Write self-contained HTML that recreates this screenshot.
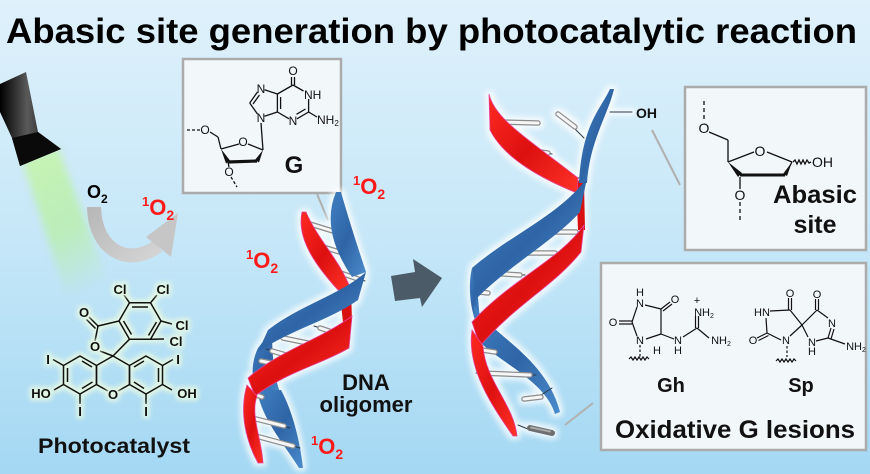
<!DOCTYPE html>
<html><head><meta charset="utf-8"><style>
html,body{margin:0;padding:0;background:#c4e6f8;}
svg{display:block;font-family:"Liberation Sans",Arial,sans-serif;}
</style></head><body>
<svg width="870" height="474" viewBox="0 0 870 474" xmlns="http://www.w3.org/2000/svg">
<defs>
<linearGradient id="bg" x1="0" y1="0" x2="0" y2="1">
<stop offset="0" stop-color="#dff1fb"/><stop offset="0.5" stop-color="#c6e7f8"/><stop offset="1" stop-color="#a4d8f3"/></linearGradient>
<linearGradient id="blueG" x1="0" y1="0" x2="1" y2="1">
<stop offset="0" stop-color="#3f7fc2"/><stop offset="0.5" stop-color="#2f65a6"/><stop offset="1" stop-color="#4b8bcc"/></linearGradient>
<linearGradient id="redG" x1="0" y1="0" x2="1" y2="1">
<stop offset="0" stop-color="#ff2a22"/><stop offset="0.5" stop-color="#dd1010"/><stop offset="1" stop-color="#ff3328"/></linearGradient>
<linearGradient id="flash" x1="0" y1="0" x2="1" y2="0">
<stop offset="0" stop-color="#000"/><stop offset="0.45" stop-color="#5a5a5a"/><stop offset="1" stop-color="#000"/></linearGradient>
<linearGradient id="beam" x1="0" y1="0" x2="0.3" y2="1">
<stop offset="0" stop-color="#c8f5b0" stop-opacity="0.95"/><stop offset="0.6" stop-color="#b6efa0" stop-opacity="0.7"/><stop offset="1" stop-color="#b6efa0" stop-opacity="0"/></linearGradient>
<linearGradient id="arcG" x1="0" y1="0" x2="1" y2="1">
<stop offset="0" stop-color="#b8b8b8"/><stop offset="0.6" stop-color="#c8c8c8"/><stop offset="1" stop-color="#d4d4d4"/></linearGradient>
<filter id="blur4" x="-50%" y="-50%" width="200%" height="200%" color-interpolation-filters="sRGB"><feGaussianBlur stdDeviation="4"/></filter>
<filter id="glow" x="-20%" y="-20%" width="140%" height="140%" color-interpolation-filters="sRGB">
<feMorphology in="SourceAlpha" operator="dilate" radius="3" result="d"/>
<feGaussianBlur in="d" stdDeviation="3" result="b"/>
<feFlood flood-color="#ffffff" flood-opacity="0.8"/>
<feComposite in2="b" operator="in" result="g"/>
<feMerge><feMergeNode in="g"/><feMergeNode in="SourceGraphic"/></feMerge>
</filter>
<filter id="mglow" x="-20%" y="-20%" width="140%" height="140%" color-interpolation-filters="sRGB">
<feMorphology in="SourceAlpha" operator="dilate" radius="2.5" result="d"/>
<feGaussianBlur in="d" stdDeviation="2.5" result="b"/>
<feFlood flood-color="#eafbe2" flood-opacity="0.85"/>
<feComposite in2="b" operator="in" result="g"/>
<feMerge><feMergeNode in="g"/><feMergeNode in="SourceGraphic"/></feMerge>
</filter>
</defs>

<rect width="870" height="474" fill="url(#bg)"/>

<text x="6" y="43" font-size="35" font-weight="bold" fill="#000" textLength="851" lengthAdjust="spacingAndGlyphs">Abasic site generation by photocatalytic reaction</text>

<polygon points="22,160 58,148 114,298 72,312" fill="url(#beam)" filter="url(#blur4)"/>
<polygon points="0,84 26,72 38,132 61,149 20,166 12,138 0,112" fill="url(#flash)"/>
<polygon points="12,138 38,132 61,149 20,166" fill="#0a0a0a"/>

<path d="M94,207 C 95,250 128,268 158,246" fill="none" stroke="url(#arcG)" stroke-width="14"/>
<polygon points="178,213 146,237 171,257" fill="#c6c6c6"/>

<text x="87" y="198" font-size="18" font-weight="bold" fill="#000">O<tspan font-size="12" dy="5">2</tspan></text>
<text x="142" y="215" font-size="22" font-weight="bold" fill="#ff1a1a"><tspan font-size="13" dy="-9">1</tspan><tspan dy="9">O</tspan><tspan font-size="14" dy="5">2</tspan></text>
<text x="353" y="194" font-size="22" font-weight="bold" fill="#ff1a1a"><tspan font-size="13" dy="-9">1</tspan><tspan dy="9">O</tspan><tspan font-size="14" dy="5">2</tspan></text>
<text x="246" y="268" font-size="22" font-weight="bold" fill="#ff1a1a"><tspan font-size="13" dy="-9">1</tspan><tspan dy="9">O</tspan><tspan font-size="14" dy="5">2</tspan></text>
<text x="311" y="454" font-size="22" font-weight="bold" fill="#ff1a1a"><tspan font-size="13" dy="-9">1</tspan><tspan dy="9">O</tspan><tspan font-size="14" dy="5">2</tspan></text>

<g filter="url(#mglow)" stroke="#111" stroke-width="1.5" fill="none">
<polyline points="113,356 96.5,365.5 96.5,384.5 108,391"/>
<polyline points="118,391 129.5,384.5 129.5,365.5 113,356"/>
<polygon points="80,356 96.5,365.5 96.5,384.5 80,394 63.5,384.5 63.5,365.5"/>
<line x1="82" y1="361" x2="92" y2="367"/><line x1="92.5" y1="382" x2="82" y2="388.5"/><line x1="67.5" y1="368" x2="67.5" y2="382"/>
<polygon points="146,356 162.5,365.5 162.5,384.5 146,394 129.5,384.5 129.5,365.5"/>
<line x1="134" y1="367" x2="144" y2="361"/><line x1="158.5" y1="368" x2="158.5" y2="382"/><line x1="144" y1="388.5" x2="134" y2="382"/>
<line x1="63.5" y1="365.5" x2="53" y2="359.5"/>
<line x1="63.5" y1="384.5" x2="54" y2="390"/>
<line x1="80" y1="394" x2="80" y2="404"/>
<line x1="162.5" y1="365.5" x2="173" y2="359.5"/>
<line x1="162.5" y1="384.5" x2="172" y2="390"/>
<line x1="146" y1="394" x2="146" y2="404"/>
<polygon points="161,321 150.5,339.2 129.5,339.2 119,321 129.5,302.8 150.5,302.8"/>
<line x1="132" y1="307" x2="148" y2="307"/><line x1="156.5" y1="322" x2="148.5" y2="335.5"/><line x1="123.5" y1="321" x2="131.5" y2="334.5"/>
<line x1="129.5" y1="302.8" x2="124" y2="295"/>
<line x1="150.5" y1="302.8" x2="157" y2="295"/>
<line x1="161" y1="321" x2="172" y2="324"/>
<line x1="150.5" y1="339.2" x2="164" y2="339"/>
<line x1="119" y1="321" x2="98" y2="326"/>
<line x1="98" y1="326" x2="95" y2="341"/>
<line x1="100" y1="351" x2="113" y2="356"/>
<line x1="113" y1="356" x2="129.5" y2="339.2"/>
<line x1="98" y1="326" x2="89" y2="317"/><line x1="95.5" y1="328.5" x2="86.5" y2="319.5"/>
</g>
<g filter="url(#mglow)" font-size="13" fill="#111" text-anchor="middle" font-weight="bold">
<text x="84" y="317">O</text>
<text x="95" y="351">O</text>
<text x="113" y="399">O</text>
<text x="120" y="294">Cl</text>
<text x="163" y="294">Cl</text>
<text x="182" y="330">Cl</text>
<text x="176" y="346">Cl</text>
<text x="48" y="364">I</text>
<text x="41" y="398">HO</text>
<text x="80" y="416">I</text>
<text x="178" y="364">I</text>
<text x="187" y="398">OH</text>
<text x="146" y="416">I</text>
</g>
<text x="114" y="453" font-size="21" font-weight="bold" fill="#111" text-anchor="middle" textLength="152" lengthAdjust="spacingAndGlyphs">Photocatalyst</text>

<rect x="183" y="59" width="158" height="134" fill="#f2f7fa" stroke="#ababab" stroke-width="2.5"/>
<line x1="317" y1="194" x2="328" y2="220" stroke="#b0b0b0" stroke-width="2"/>
<g stroke="#111" stroke-width="1.3" fill="none">
<line x1="291.5" y1="85" x2="291.5" y2="77"/><line x1="294.5" y1="85" x2="294.5" y2="77"/>
<line x1="293" y1="85" x2="303.5" y2="91"/>
<line x1="308.6" y1="99" x2="308.6" y2="112"/>
<line x1="308.6" y1="112" x2="297" y2="118.8"/><line x1="305.5" y1="109" x2="296.5" y2="114.3"/>
<line x1="289" y1="118.8" x2="277.4" y2="112"/>
<line x1="277.4" y1="112" x2="277.4" y2="94"/><line x1="280.6" y1="109" x2="280.6" y2="97"/>
<line x1="277.4" y1="94" x2="293" y2="85"/>
<line x1="277.4" y1="94" x2="264.5" y2="89.7"/>
<line x1="257.5" y1="92" x2="249.7" y2="103"/><line x1="259.5" y1="95" x2="253" y2="104"/>
<line x1="249.7" y1="103" x2="257.5" y2="114"/>
<line x1="264.5" y1="116.3" x2="277.4" y2="112"/>
<line x1="308.6" y1="112" x2="317" y2="117"/>
<line x1="261" y1="123" x2="263" y2="150"/>
<line x1="263" y1="150" x2="248" y2="144"/>
<line x1="239" y1="144" x2="221" y2="149"/>
<line x1="221" y1="149" x2="218" y2="137"/>
<line x1="218" y1="137" x2="210" y2="132"/>
<line x1="200" y1="130" x2="187" y2="130" stroke-dasharray="3,2"/>
<line x1="228" y1="162" x2="229" y2="167"/>
<line x1="231" y1="177" x2="237" y2="187" stroke-dasharray="3,2"/>
<line x1="228" y1="162" x2="257" y2="161" stroke-width="3.2"/>
</g>
<polygon points="221,149 226,163.5 230,160.5" fill="#111"/>
<polygon points="263,150 255,160 259,162.5" fill="#111"/>
<g font-size="12" fill="#111">
<text x="293" y="75" text-anchor="middle">O</text>
<text x="304" y="99">NH</text>
<text x="293" y="125" text-anchor="middle">N</text>
<text x="261" y="93" text-anchor="middle">N</text>
<text x="261" y="122" text-anchor="middle">N</text>
<text x="317" y="124">NH<tspan font-size="8" dy="2">2</tspan></text>
<text x="243" y="146" text-anchor="middle">O</text>
<text x="205" y="134" text-anchor="middle">O</text>
<text x="229" y="176" text-anchor="middle">O</text>
</g>
<text x="294" y="173" font-size="24" font-weight="bold" fill="#111" text-anchor="middle">G</text>

<g filter="url(#glow)">
<path d="M258,348 C 250,365 252,380 257,395 L 281,395 C 275,380 272,360 272,330 Z" fill="url(#blueG)"/>
<path d="M257,390 C 262,420 285,445 299,468 L 303,468 C 300,440 292,410 281,390 Z" fill="url(#blueG)"/>
<path d="M339,286 L 351,288 L 352,322 L 343,322 Z" fill="#d81010"/>
<g stroke-linecap="round">
<g stroke="#2a3a4a" stroke-width="1"><line x1="304" y1="222" x2="343" y2="234"/><line x1="310" y1="242" x2="360" y2="258"/><line x1="320" y1="266" x2="365" y2="281"/><line x1="314" y1="326" x2="350" y2="338"/><line x1="276" y1="336" x2="343" y2="351"/><line x1="266" y1="349" x2="306" y2="361"/><line x1="246" y1="416" x2="290" y2="428"/><line x1="246" y1="432" x2="300" y2="448"/></g>
<g stroke="#8c8c8c" stroke-width="5.5"><line x1="310" y1="224" x2="336" y2="232"/><line x1="317" y1="245" x2="352" y2="256"/><line x1="326" y1="268" x2="358" y2="279"/><line x1="341" y1="290" x2="352" y2="293"/><line x1="320" y1="328" x2="344" y2="336"/><line x1="283" y1="338" x2="337" y2="349"/><line x1="272" y1="351" x2="300" y2="359"/><line x1="261" y1="361" x2="271" y2="363"/><line x1="251" y1="393" x2="262" y2="397"/><line x1="252" y1="418" x2="284" y2="426"/><line x1="252" y1="435" x2="293" y2="446"/></g>
<g stroke="#f6f6f6" stroke-width="3"><line x1="310" y1="224" x2="336" y2="232"/><line x1="317" y1="245" x2="352" y2="256"/><line x1="326" y1="268" x2="358" y2="279"/><line x1="341" y1="290" x2="352" y2="293"/><line x1="320" y1="328" x2="344" y2="336"/><line x1="283" y1="338" x2="337" y2="349"/><line x1="272" y1="351" x2="300" y2="359"/><line x1="261" y1="361" x2="271" y2="363"/><line x1="251" y1="393" x2="262" y2="397"/><line x1="252" y1="418" x2="284" y2="426"/><line x1="252" y1="435" x2="293" y2="446"/></g>
</g>
<path d="M302,212 C 296,240 318,268 338,290 L 351,290 C 340,260 318,240 306,212 Z" fill="url(#redG)" stroke="#e8409a" stroke-width="0.8"/>
<path d="M336,192 Q320,230 352,277 L366,272 Q350,224 341,192 Z" fill="url(#blueG)"/>
<path d="M366,272 C 340,295 300,305 268,330 L 258,352 C 290,330 330,320 358,300 Z" fill="url(#blueG)"/>
<path d="M352,316 C 320,340 280,350 248,378 L 255,396 C 290,370 320,365 349,348 Z" fill="url(#redG)" stroke="#e8409a" stroke-width="0.8"/>
<path d="M247,385 C 238,415 248,445 258,463 L 263,463 C 262,440 250,415 257,396 Z" fill="url(#redG)" stroke="#e8409a" stroke-width="0.8"/>
</g>
<text x="366" y="390" font-size="22" font-weight="bold" fill="#111" text-anchor="middle">DNA</text>
<text x="366" y="412" font-size="22" font-weight="bold" fill="#111" text-anchor="middle" textLength="93" lengthAdjust="spacingAndGlyphs">oligomer</text>

<polygon points="391,276 415,272 413,259 442,278 422,307 420,298 395,301" fill="#4b5c68"/>

<line x1="652" y1="130" x2="680" y2="185" stroke="#b0b0b0" stroke-width="2"/>
<line x1="565" y1="425" x2="593" y2="403" stroke="#b0b0b0" stroke-width="2"/>
<g filter="url(#glow)">
<path d="M576,180 L584,182 L585,230 L578,230 Z" fill="#d81010"/>
<path d="M472,268 C 468,285 470,305 475,320 L 480,320 L 478,298 Z" fill="url(#blueG)"/>
<path d="M474,305 C 490,335 545,355 560,412 L 555,414 C 545,380 495,360 476,338 Z" fill="url(#blueG)"/>
<g stroke-linecap="round">
<g stroke="#2a3a4a" stroke-width="1"><line x1="490" y1="122" x2="520" y2="122"/><line x1="505" y1="148" x2="552" y2="154"/><line x1="553" y1="177" x2="580" y2="178"/><line x1="572" y1="126" x2="584" y2="138"/><line x1="546" y1="232" x2="582" y2="232"/><line x1="500" y1="253" x2="560" y2="253"/><line x1="484" y1="273" x2="525" y2="275"/><line x1="476" y1="373" x2="536" y2="375"/><line x1="538" y1="397" x2="552" y2="388"/><line x1="518" y1="425" x2="528" y2="429"/><line x1="610" y1="112" x2="632" y2="112"/></g>
<g stroke="#8c8c8c" stroke-width="5.5"><line x1="500" y1="122" x2="538" y2="123"/><line x1="517" y1="149" x2="548" y2="153"/><line x1="559" y1="177" x2="574" y2="178"/><line x1="558" y1="114" x2="575" y2="127"/><line x1="552" y1="232" x2="576" y2="232"/><line x1="507" y1="253" x2="555" y2="253"/><line x1="489" y1="273" x2="520" y2="275"/><line x1="479" y1="292" x2="488" y2="293"/><line x1="482" y1="350" x2="495" y2="352"/><line x1="481" y1="373" x2="530" y2="375"/><line x1="524" y1="399" x2="541" y2="397"/></g>
<g stroke="#f6f6f6" stroke-width="3"><line x1="500" y1="122" x2="538" y2="123"/><line x1="517" y1="149" x2="548" y2="153"/><line x1="559" y1="177" x2="574" y2="178"/><line x1="558" y1="114" x2="575" y2="127"/><line x1="552" y1="232" x2="576" y2="232"/><line x1="507" y1="253" x2="555" y2="253"/><line x1="489" y1="273" x2="520" y2="275"/><line x1="479" y1="292" x2="488" y2="293"/><line x1="482" y1="350" x2="495" y2="352"/><line x1="481" y1="373" x2="530" y2="375"/><line x1="524" y1="399" x2="541" y2="397"/></g>
<line x1="530" y1="428" x2="552" y2="433" stroke="#6e6e6e" stroke-width="6"/>
<line x1="531" y1="427.5" x2="550" y2="431.5" stroke="#a8a8a8" stroke-width="2"/>
</g>
<path d="M489,94 C 495,120 530,140 578,178 L 577,193 C 545,180 505,160 490,130 Z" fill="url(#redG)" stroke="#e8409a" stroke-width="0.8"/>
<path d="M610,89 C 600,110 582,125 579,183 L 587,183 C 590,140 608,115 614,89 Z" fill="url(#blueG)"/>
<path d="M587,178 C 560,215 510,235 472,268 L 477,298 C 510,265 555,240 580,212 Z" fill="url(#blueG)"/>
<path d="M584,225 C 560,260 510,280 472,322 L 480,346 C 515,305 555,285 581,252 Z" fill="url(#redG)" stroke="#e8409a" stroke-width="0.8"/>
<path d="M472,330 C 466,370 495,410 513,436 L 517,436 C 514,405 485,380 483,346 Z" fill="url(#redG)" stroke="#e8409a" stroke-width="0.8"/>
</g>
<text x="636" y="118" font-size="14" fill="#111" font-weight="bold">OH</text>

<rect x="685" y="87" width="181" height="163" fill="#f2f7fa" stroke="#ababab" stroke-width="2.5"/>
<g stroke="#111" stroke-width="1.3" fill="none">
<line x1="704" y1="101" x2="704" y2="120" stroke-dasharray="4,3"/>
<line x1="709" y1="132" x2="728" y2="140"/>
<line x1="728" y1="140" x2="728" y2="162"/>
<line x1="728" y1="162" x2="754" y2="152"/>
<line x1="767" y1="152" x2="792" y2="162"/>
<polyline points="793,162 795,160 797,164 799,160 801,164 803,160 805,164 807,160 809,163 811,162"/>
<line x1="792" y1="162" x2="785" y2="175"/>
<line x1="785" y1="175" x2="740" y2="175" stroke-width="3"/>
<line x1="740" y1="177" x2="740" y2="189"/>
<line x1="740" y1="202" x2="740" y2="222" stroke-dasharray="4,3"/>
</g>
<polygon points="728,162 738,177 742,173" fill="#111"/>
<polygon points="792,162 783,174 787,176" fill="#111"/>
<g font-size="14" fill="#111" text-anchor="middle">
<text x="704" y="133">O</text>
<text x="760" y="156">O</text>
<text x="740" y="200">O</text>
<text x="812" y="167" text-anchor="start">OH</text>
</g>
<text x="773" y="203" font-size="25" font-weight="bold" fill="#111" textLength="84" lengthAdjust="spacingAndGlyphs">Abasic</text>
<text x="815" y="233" font-size="25" font-weight="bold" fill="#111" text-anchor="middle">site</text>

<rect x="601" y="263" width="265" height="187" fill="#f2f7fa" stroke="#ababab" stroke-width="2.5"/>
<g stroke="#111" stroke-width="1.2" fill="none">
<line x1="645" y1="305" x2="661" y2="309"/>
<line x1="661" y1="309" x2="670" y2="302"/><line x1="663" y1="311" x2="672" y2="304"/>
<line x1="661" y1="309" x2="661" y2="334"/>
<line x1="661" y1="334" x2="646" y2="339"/>
<line x1="637" y1="336" x2="632" y2="322"/>
<line x1="632" y1="322" x2="637" y2="307"/>
<line x1="632" y1="321" x2="619" y2="321"/><line x1="632" y1="324" x2="619" y2="324"/>
<line x1="640" y1="345" x2="640" y2="357" stroke-dasharray="2.5,2"/>
<polyline points="629,359 631,357 633,360 635,357 637,360 639,357 641,360 643,357 645,360 647,357 649,359"/>
<line x1="661" y1="334" x2="674" y2="339"/>
<line x1="683" y1="337" x2="697" y2="328"/>
<line x1="695.5" y1="328" x2="695.5" y2="316"/><line x1="698.5" y1="328" x2="698.5" y2="316"/>
<line x1="697" y1="328" x2="709" y2="338"/>
<line x1="770" y1="311" x2="790" y2="310"/>
<line x1="788.5" y1="310" x2="788.5" y2="298"/><line x1="791.5" y1="310" x2="791.5" y2="298"/>
<line x1="790" y1="310" x2="802" y2="325"/>
<line x1="802" y1="325" x2="790" y2="336"/>
<line x1="781" y1="340" x2="767" y2="333"/>
<line x1="767" y1="333" x2="766" y2="318"/>
<line x1="767" y1="333" x2="757" y2="338"/><line x1="768.5" y1="335.5" x2="758.5" y2="340.5"/>
<line x1="802" y1="325" x2="817" y2="310"/>
<line x1="815.5" y1="310" x2="815.5" y2="299"/><line x1="818.5" y1="310" x2="818.5" y2="299"/>
<line x1="817" y1="310" x2="828" y2="318"/>
<line x1="831" y1="328" x2="828" y2="338"/><line x1="834" y1="329" x2="831" y2="339"/>
<line x1="828" y1="338" x2="845" y2="344"/>
<line x1="828" y1="338" x2="816" y2="341"/>
<line x1="808" y1="337" x2="802" y2="325"/>
<line x1="787" y1="346" x2="787" y2="357" stroke-dasharray="2.5,2"/>
<polyline points="776,361 778,359 780,362 782,359 784,362 786,359 788,362 790,359 792,362 794,359 796,361"/>
</g>
<g font-size="11" fill="#111" text-anchor="middle">
<text x="640" y="296">H</text>
<text x="640" y="307">N</text>
<text x="675" y="303">O</text>
<text x="613" y="326">O</text>
<text x="640" y="344">N</text>
<text x="657" y="354">H</text>
<text x="678" y="344">N</text>
<text x="678" y="354">H</text>
<text x="697" y="304">+</text>
<text x="704" y="316">NH<tspan font-size="7" dy="2">2</tspan></text>
<text x="721" y="344">NH<tspan font-size="7" dy="2">2</tspan></text>
<text x="790" y="297">O</text>
<text x="817" y="298">O</text>
<text x="762" y="316">HN</text>
<text x="753" y="344">O</text>
<text x="786" y="344">N</text>
<text x="832" y="327">N</text>
<text x="812" y="346">N</text>
<text x="812" y="355">H</text>
<text x="856" y="350">NH<tspan font-size="7" dy="2">2</tspan></text>
</g>
<text x="671" y="392" font-size="20" font-weight="bold" fill="#111" text-anchor="middle">Gh</text>
<text x="801" y="392" font-size="20" font-weight="bold" fill="#111" text-anchor="middle">Sp</text>
<text x="615" y="438" font-size="25" font-weight="bold" fill="#111" textLength="240" lengthAdjust="spacingAndGlyphs">Oxidative G lesions</text>
</svg>
</body></html>
